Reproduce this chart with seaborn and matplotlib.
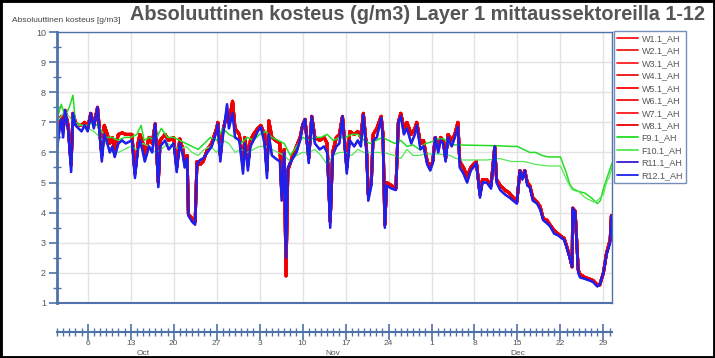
import numpy as np
import pandas as pd
import matplotlib
matplotlib.use("Agg")
import matplotlib.pyplot as plt
import matplotlib.dates as mdates
from matplotlib.ticker import MultipleLocator, FuncFormatter
from matplotlib.lines import Line2D
from matplotlib.patches import Rectangle
import seaborn as sns

# ---------------- data (days after 1 Oct 2020) ----------------
days = [0.0, 0.3, 0.7, 1.0, 1.3, 1.8, 2.3, 2.6, 3.0, 3.5,
        4.0, 4.5, 5.0, 5.5, 6.0, 6.6, 7.3, 7.7, 8.2, 8.6,
        9.0, 9.4, 10.0, 10.6, 11.2, 12.2, 12.7, 13.2, 13.5, 14.0,
        14.3, 15.0, 15.5, 16.0, 16.5, 16.8, 17.6, 18.2, 19.0, 19.5,
        20.0, 20.5, 20.8, 21.2, 21.4, 22.0, 22.5, 22.8, 23.3, 23.8,
        24.5, 25.2, 26.0, 26.2, 26.6, 27.0, 27.7, 28.0, 28.6, 29.0,
        29.7, 30.3, 30.6, 31.1, 31.5, 32.0, 32.7, 33.2, 33.8, 34.2,
        34.5, 35.0, 35.6, 36.3, 36.6, 37.0, 37.3, 37.6, 38.4, 39.0,
        39.6, 40.0, 40.4, 41.0, 41.5, 42.0, 42.8, 43.5, 44.0, 44.5,
        44.9, 45.5, 46.0, 46.5, 47.2, 47.7, 48.4, 49.0, 49.5, 49.9,
        50.4, 50.7, 51.2, 51.5, 52.1, 52.8, 53.1, 53.4, 53.7, 54.5,
        55.2, 55.6, 56.0, 56.5, 57.0, 57.7, 58.3, 58.6, 59.2, 59.7,
        60.3, 60.8, 61.2, 61.6, 62.1, 62.5, 62.9, 63.3, 63.7, 64.3,
        64.8, 65.3, 65.6, 66.2, 66.8, 67.4, 67.8, 68.3, 68.9, 69.3,
        70.0, 70.7, 71.3, 71.6, 72.2, 73.0, 73.7, 74.3, 74.9, 75.4,
        75.8, 76.2, 76.6, 77.0, 77.5, 78.2, 78.7, 79.2, 79.8, 80.3,
        81.0, 81.6, 82.2, 82.6, 83.0, 83.5, 83.9, 84.0, 84.4, 84.9,
        85.2, 86.0, 86.7, 87.3, 88.0, 88.4, 89.0, 89.5, 90.1, 90.3]

r_ah = [6.1, 6.6, 7.1, 6.5, 7.4, 6.8, 5.35, 7.3, 6.9, 6.8,
        6.7, 6.9, 6.7, 7.3, 6.8, 7.5, 5.7, 6.6, 6.3, 6.0,
        6.2, 5.85, 6.3, 6.4, 6.3, 6.4, 5.15, 6.1, 6.4, 6.0,
        5.7, 6.2, 6.0, 6.95, 4.85, 6.2, 6.4, 6.1, 6.3, 5.35,
        6.3, 5.9, 5.5, 5.8, 3.9, 3.7, 3.6, 5.6, 5.75, 5.8,
        6.0, 6.2, 6.7, 6.95, 5.7, 6.5, 7.6, 6.8, 7.3, 6.5,
        6.4, 5.3, 6.3, 5.4, 6.2, 6.4, 6.7, 6.85, 6.3, 5.15,
        6.6, 5.9, 5.8, 5.7, 4.4, 6.0, 2.5, 5.5, 5.8, 6.0,
        6.4, 6.9, 7.1, 5.65, 7.2, 6.3, 6.1, 6.2, 6.0, 3.5,
        5.9, 6.2, 6.3, 7.2, 5.3, 6.4, 6.2, 6.4, 6.2, 7.25,
        6.0, 4.4, 4.9, 6.4, 6.5, 7.15, 6.4, 3.5, 4.9, 4.8,
        4.75, 7.0, 7.2, 6.6, 6.8, 6.3, 6.6, 6.9, 6.1, 6.2,
        5.6, 5.4, 5.65, 6.5, 6.0, 6.4, 6.3, 5.7, 6.5, 6.2,
        6.5, 6.85, 5.5, 5.3, 5.0, 5.4, 5.5, 5.65, 4.5, 5.0,
        5.0, 4.8, 6.2, 5.0, 4.75, 4.6, 4.5, 4.4, 4.3, 5.4,
        5.1, 5.4, 4.9, 4.85, 4.4, 4.3, 4.1, 3.75, 3.65, 3.55,
        3.3, 3.25, 3.15, 3.1, 2.85, 2.5, 2.2, 4.15, 4.0, 2.0,
        1.85, 1.8, 1.75, 1.7, 1.55, 1.6, 2.0, 2.6, 3.0, 3.9]

w_ah = [6.5, 6.8, 7.2, 6.7, 7.4, 6.9, 5.6, 7.3, 7.0, 6.9,
        6.9, 7.0, 6.8, 7.3, 6.9, 7.5, 5.9, 6.9, 6.6, 6.3,
        6.5, 6.1, 6.6, 6.65, 6.6, 6.6, 5.3, 6.3, 6.6, 6.3,
        5.9, 6.5, 6.3, 6.95, 5.0, 6.4, 6.6, 6.4, 6.5, 5.5,
        6.45, 6.1, 5.7, 5.9, 3.95, 3.8, 3.7, 5.7, 5.6, 5.7,
        6.1, 6.3, 6.8, 7.0, 5.9, 6.7, 7.3, 7.0, 7.7, 6.8,
        6.6, 5.6, 6.5, 5.6, 6.4, 6.6, 6.8, 6.9, 6.6, 5.4,
        7.05, 6.5, 6.4, 6.3, 4.6, 6.1, 1.9, 5.4, 5.9, 6.2,
        6.5, 6.9, 7.1, 5.8, 7.2, 6.5, 6.4, 6.5, 6.3, 3.7,
        6.0, 6.5, 6.6, 7.2, 5.5, 6.7, 6.6, 6.7, 6.5, 7.3,
        6.2, 4.6, 5.0, 6.6, 6.8, 7.2, 6.6, 3.6, 5.0, 4.9,
        4.8, 7.0, 7.3, 6.8, 7.0, 6.6, 6.8, 7.0, 6.3, 6.4,
        5.7, 5.5, 5.7, 6.5, 6.2, 6.5, 6.4, 5.8, 6.6, 6.4,
        6.6, 7.0, 5.7, 5.5, 5.2, 5.5, 5.6, 5.7, 4.6, 5.1,
        5.1, 4.9, 6.2, 5.1, 4.9, 4.75, 4.65, 4.5, 4.35, 5.4,
        5.2, 5.4, 5.0, 4.9, 4.5, 4.35, 4.2, 3.8, 3.75, 3.6,
        3.4, 3.3, 3.2, 3.15, 2.9, 2.55, 2.2, 4.15, 4.05, 2.1,
        1.95, 1.85, 1.8, 1.75, 1.6, 1.6, 2.0, 2.65, 3.1, 3.9]

f9_days = [0, 0.7, 1.3, 2.0, 2.6, 3, 4, 5, 6, 7, 8, 9, 10, 11, 12, 13, 13.7, 14.2,
           15, 16, 17, 18, 19, 20, 21, 22, 23, 24, 25, 26, 27, 28, 29, 30, 31, 32,
           33, 34, 35, 36, 37, 38, 39, 40, 41, 42, 43, 44, 45, 46, 47, 48, 49, 50,
           51, 52, 53, 54, 55, 56, 57, 58, 59, 60, 61, 62, 63, 64, 65, 72, 74, 75,
           76, 77, 78, 79, 80, 82, 83, 83.5, 84, 85, 86, 87, 88, 88.5, 89, 89.5, 90, 90.4]
f9_ah = [7.1, 7.6, 7.2, 7.5, 7.9, 7.0, 6.9, 6.9, 7.0, 6.8, 6.5, 6.5, 6.4, 6.5, 6.5, 6.6, 6.9, 6.4,
         6.5, 6.4, 6.8, 6.5, 6.5, 6.4, 6.3, 6.2, 6.1, 6.3, 6.5, 6.4, 6.8, 6.6, 6.5, 6.3, 6.5, 6.4,
         6.6, 6.7, 6.5, 6.4, 6.3, 5.9, 6.2, 6.5, 6.4, 6.5, 6.5, 6.6, 6.4, 6.5, 6.5, 6.6, 6.6, 6.4,
         6.3, 6.4, 6.5, 6.4, 6.3, 6.4, 6.2, 6.25, 6.1, 6.3, 6.35, 6.45, 6.45, 6.25, 6.25, 6.22, 6.2, 6.2,
         6.1, 6.0, 6.0, 5.9, 5.85, 5.85, 5.3, 4.95, 4.8, 4.7, 4.65, 4.5, 4.3, 4.4, 4.8, 5.1, 5.4, 5.65]

f10_days = [0, 1, 2, 3, 4, 5, 6, 7, 8, 9, 10, 11, 12, 13, 14, 15, 16, 17, 18, 19,
            20, 21, 22, 23, 24, 25, 26, 27, 28, 29, 30, 31, 32, 33, 34, 35, 36, 37, 38, 39,
            40, 41, 42, 43, 44, 45, 46, 47, 48, 49, 50, 51, 52, 53, 54, 55, 56, 57, 58, 59,
            60, 62, 64, 65, 66, 68, 70, 72, 74, 76, 78, 80, 82, 83, 83.5, 84, 85, 86, 87, 87.5,
            88, 89, 89.5, 90, 90.4]
f10_ah = [7.0, 7.3, 7.2, 6.9, 6.9, 6.8, 6.7, 6.5, 6.3, 6.0, 6.0, 6.1, 6.2, 6.1, 6.3, 6.2, 6.0, 6.1, 6.3, 6.2,
          6.1, 6.2, 6.0, 5.9, 6.1, 6.2, 6.0, 6.4, 6.3, 6.0, 6.1, 6.0, 6.1, 6.2, 6.2, 6.1, 6.0, 5.9, 5.7, 5.9,
          6.0, 6.0, 6.1, 5.9, 5.6, 5.9, 6.0, 6.0, 5.9, 6.1, 6.0, 6.0, 6.0, 6.0, 5.95, 5.9, 5.8, 6.1, 5.9, 5.9,
          5.95, 5.95, 5.9, 5.8, 5.75, 5.75, 5.75, 5.8, 5.7, 5.7, 5.6, 5.55, 5.55, 5.1, 4.9, 4.75, 4.7, 4.5, 4.4, 4.35,
          4.4, 4.6, 5.0, 5.2, 5.5]

w_names = [f"W{i}.1_AH" for i in range(1, 9)]
f_names = ["F9.1_AH", "F10.1_AH"]
r_names = ["R11.1_AH", "R12.1_AH"]
series_names = w_names + f_names + r_names

y_ticks = [1, 2, 3, 4, 5, 6, 7, 8, 9, 10]
month_labels = ["Oct", "Nov", "Dec"]

title = "Absoluuttinen kosteus (g/m3) Layer 1 mittaussektoreilla 1-12"
ylabel = "Absoluuttinen kosteus [g/m3]"

# ---------------- build table ----------------
start = pd.Timestamp("2020-10-01")
assert len(days) == len(r_ah) == len(w_ah)
assert len(f9_days) == len(f9_ah)
assert len(f10_days) == len(f10_ah)

frames = []
def add(name, d, v):
    frames.append(pd.DataFrame({"time": start + pd.to_timedelta(d, unit="D"),
                                "value": v, "series": name}))
for n in w_names:
    add(n, days, w_ah)
add("F9.1_AH", f9_days, f9_ah)
add("F10.1_AH", f10_days, f10_ah)
for n in r_names:
    add(n, days, r_ah)
df = pd.concat(frames, ignore_index=True)

palette = {
    "W1.1_AH": "#ff1010", "W2.1_AH": "#f01818", "W3.1_AH": "#ff2020", "W4.1_AH": "#e81010",
    "W5.1_AH": "#ff0000", "W6.1_AH": "#f00c0c", "W7.1_AH": "#ff1818", "W8.1_AH": "#ee0000",
    "F9.1_AH": "#22dd22", "F10.1_AH": "#55e855",
    "R11.1_AH": "#3a18d8", "R12.1_AH": "#1a22f0",
}
widths = {n: 2.1 for n in w_names}
widths.update({"F9.1_AH": 1.1, "F10.1_AH": 0.9, "R11.1_AH": 1.8, "R12.1_AH": 1.3})

# ---------------- figure ----------------
sns.set_theme(style="white")
plt.rcParams["font.family"] = ["Liberation Sans", "DejaVu Sans"]

W, H = 715, 358
fig = plt.figure(figsize=(W / 100, H / 100), dpi=100)
fig.patch.set_facecolor("white")

axL, axR, axT, axB = 57, 612, 32, 303
ax = fig.add_axes([axL / W, 1 - axB / H, (axR - axL) / W, (axB - axT) / H])

sns.lineplot(data=df, x="time", y="value", hue="series", hue_order=series_names,
             palette=palette, estimator=None, sort=False, legend=False, ax=ax)
for line, name in zip(ax.lines, series_names):
    line.set_linewidth(widths[name])

xmin = start
xmax = start + pd.Timedelta(days=90.4)
ax.set_xlim(xmin, xmax)
ax.set_ylim(1, 10)
ax.set_xlabel("")
ax.set_ylabel("")

spine_c = "#4f72a8"
for s in ax.spines.values():
    s.set_color(spine_c)
    s.set_linewidth(1.0)
ax.spines["left"].set_linewidth(2.0)
ax.spines["bottom"].set_linewidth(1.5)

ax.set_yticks(y_ticks)
ax.yaxis.set_minor_locator(MultipleLocator(0.5))
ax.tick_params(axis="y", which="major", left=True, direction="out", length=6, width=1.2,
               color=spine_c, labelsize=6.5, labelcolor="#555555", pad=2)
ax.tick_params(axis="y", which="minor", left=True, direction="inout", length=6, width=1.0,
               color=spine_c)
ax.xaxis.set_major_locator(mdates.WeekdayLocator(byweekday=mdates.TU))
ax.tick_params(axis="x", which="both", bottom=False, labelbottom=False, length=0)
ax.grid(True, which="major", color="#e2e2e2", linewidth=1.0)
ax.set_axisbelow(True)

# ---------------- separate date axis ----------------
dateY = 332
ax2 = fig.add_axes([axL / W, 1 - dateY / H, (axR - axL) / W, 0.0001])
ax2.set_xlim(xmin, xmax)
ax2.set_ylim(0, 1)
for k in ["left", "right", "top"]:
    ax2.spines[k].set_visible(False)
ax2.spines["bottom"].set_color(spine_c)
ax2.spines["bottom"].set_linewidth(1.5)
ax2.set_facecolor("none")
ax2.set_yticks([])
ax2.xaxis.set_major_locator(mdates.WeekdayLocator(byweekday=mdates.TU))
ax2.xaxis.set_minor_locator(mdates.DayLocator())
ax2.xaxis.set_major_formatter(FuncFormatter(lambda x, pos: str(mdates.num2date(x).day)))
ax2.tick_params(axis="x", which="major", bottom=True, direction="inout", length=11, width=1.2,
                color=spine_c, labelsize=6, labelcolor="#555555", pad=0)
ax2.tick_params(axis="x", which="minor", bottom=True, direction="inout", length=6, width=1.0,
                color=spine_c)
for i, m in enumerate(month_labels):
    d = pd.Timestamp(2020, 10 + i, 15)
    ax2.annotate(m, xy=(mdates.date2num(d), 0), xycoords=("data", "axes fraction"),
                 xytext=(0, -15.5), textcoords="offset points", ha="center", va="center",
                 fontsize=6, color="#555555")

# ---------------- legend ----------------
handles = [Line2D([0], [0], color=palette[n], lw=1.3) for n in series_names]
leg = fig.legend(handles, series_names, loc="upper left",
                 bbox_to_anchor=(614 / W, 1 - 31 / H), frameon=True, fancybox=False,
                 edgecolor=spine_c, fontsize=6.5, handlelength=2.3, handletextpad=0.4,
                 labelspacing=0.38, borderpad=0.35, borderaxespad=0)
leg.get_frame().set_linewidth(1.0)
for t in leg.get_texts():
    t.set_color("#555555")

# ---------------- texts ----------------
fig.text(418 / W, 1 - 15 / H, title, fontsize=14.3, fontweight="bold", color="#555555",
         ha="center", va="center")
fig.text(12 / W, 1 - 20 / H, ylabel, fontsize=6, color="#444444", ha="left", va="center")

fig.patches.append(Rectangle((0, 0), 1, 1, transform=fig.transFigure, fill=False,
                             edgecolor="black", linewidth=3.5))

fig.savefig("out.png", dpi=100)
